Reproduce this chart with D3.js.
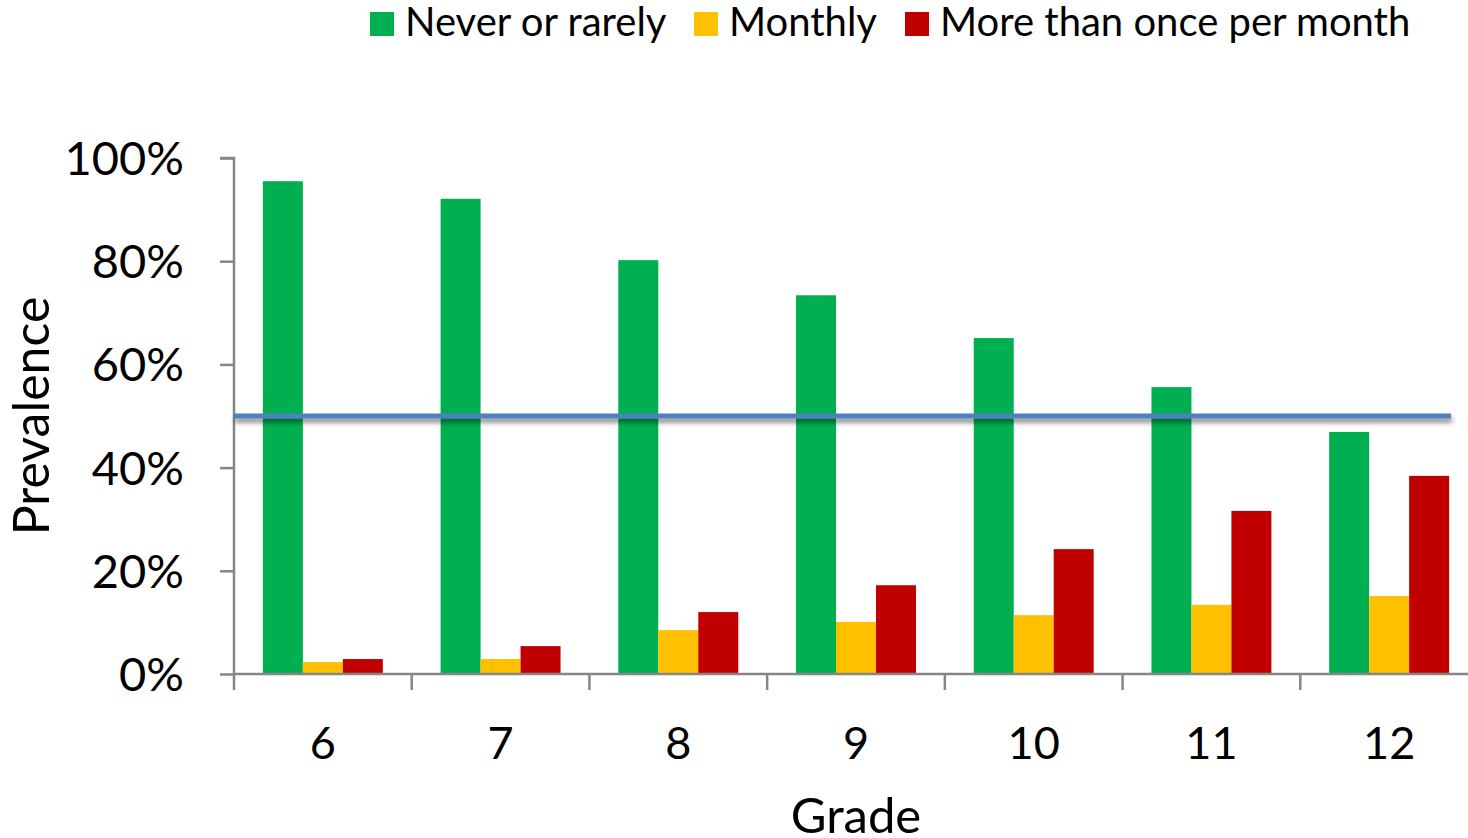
<!DOCTYPE html>
<html>
<head>
<meta charset="utf-8">
<script src="https://cdn.jsdelivr.net/npm/d3@7"></script>
<style>
  html, body { margin: 0; padding: 0; background: #fff; overflow: hidden; }
  svg { display: block; font-family: Lato, "Open Sans", sans-serif; }
</style>
</head>
<body>
<svg id="chart" width="1468" height="838"></svg>
<script>
// Grades and series values (percent of students)
const grades = ["6", "7", "8", "9", "10", "11", "12"];
const seriesNames = ["Never or rarely", "Monthly", "More than once per month"];
const neverRarely = [95.5, 92.1, 80.2, 73.4, 65.1, 55.6, 46.9];
const monthly = [2.3, 2.9, 8.5, 10.1, 11.4, 13.4, 15.1];
const moreThanOnce = [2.9, 5.4, 12.0, 17.2, 24.2, 31.6, 38.4];
const seriesColors = ["#00B050", "#FFC000", "#C00000"];
const yTicks = [0, 20, 40, 60, 80, 100];
const referenceLine = 50;

const svg = d3.select("#chart");
const axisColor = "#868686";

const x0 = d3.scaleBand().domain(grades).range([234, 1478]).padding(0);
const bw = x0.bandwidth();
const groupW = bw * 0.675;
const x1 = d3.scaleBand().domain(seriesNames)
  .range([(bw - groupW) / 2, (bw + groupW) / 2]).padding(0);
const y = d3.scaleLinear().domain([0, 100]).range([674, 158]);

const seriesData = [neverRarely, monthly, moreThanOnce];

// Soft drop shadow for the reference line (user-space region, since a
// horizontal line has a zero-height bounding box)
const defs = svg.append("defs");
const f = defs.append("filter").attr("id", "shadow")
  .attr("filterUnits", "userSpaceOnUse")
  .attr("x", 200).attr("y", y(referenceLine) - 20)
  .attr("width", 1300).attr("height", 45);
f.append("feGaussianBlur").attr("in", "SourceAlpha").attr("stdDeviation", 2.5).attr("result", "b");
f.append("feOffset").attr("in", "b").attr("dx", 1).attr("dy", 4).attr("result", "o");
f.append("feComponentTransfer").attr("in", "o").attr("result", "s")
  .append("feFuncA").attr("type", "linear").attr("slope", 0.5);
const m = f.append("feMerge");
m.append("feMergeNode").attr("in", "s");
m.append("feMergeNode").attr("in", "SourceGraphic");

// Bars
const groups = svg.append("g").selectAll("g")
  .data(grades).join("g")
  .attr("transform", d => `translate(${x0(d)},0)`);

groups.selectAll("rect")
  .data((g, i) => seriesNames.map((s, k) => ({ s, k, v: seriesData[k][i] })))
  .join("rect")
  .attr("x", d => x1(d.s))
  .attr("width", x1.bandwidth())
  .attr("y", d => y(d.v))
  .attr("height", d => y(0) - y(d.v))
  .attr("fill", d => seriesColors[d.k]);

// Y axis
const yAxis = d3.axisLeft(y).tickValues(yTicks).tickSize(14).tickPadding(36)
  .tickFormat(d => d + "%");
const gy = svg.append("g").attr("transform", "translate(234,0)").call(yAxis);
gy.select(".domain").attr("stroke", axisColor).attr("stroke-width", 2.5)
  .attr("d", `M-14,${y(100)}H0V${y(0)}`);
gy.selectAll(".tick line").attr("stroke", axisColor).attr("stroke-width", 2.5);
gy.selectAll(".tick text").attr("fill", "#000").attr("font-size", 47)
  .attr("font-family", "Lato, sans-serif").attr("dy", "0.35em");

// X axis: ticks on category boundaries
const xg = svg.append("g");
xg.append("line").attr("x1", 234).attr("x2", 1468).attr("y1", y(0)).attr("y2", y(0))
  .attr("stroke", axisColor).attr("stroke-width", 2.5);
const boundaries = grades.map(g => x0(g)).concat([x0(grades[grades.length - 1]) + bw]);
xg.selectAll("line.tk").data(boundaries).join("line").attr("class", "tk")
  .attr("x1", d => d).attr("x2", d => d).attr("y1", y(0)).attr("y2", y(0) + 16)
  .attr("stroke", axisColor).attr("stroke-width", 2.5);
xg.selectAll("text").data(grades).join("text")
  .attr("x", d => x0(d) + bw / 2).attr("y", 759)
  .attr("text-anchor", "middle").attr("font-size", 45).attr("fill", "#000")
  .text(d => d);

// Reference line at 50%
svg.append("line").attr("x1", 234).attr("x2", 1451)
  .attr("y1", y(referenceLine)).attr("y2", y(referenceLine))
  .attr("stroke", "#4F81BD").attr("stroke-width", 5)
  .attr("filter", "url(#shadow)");

// Axis titles
svg.append("text").attr("x", 856).attr("y", 833).attr("text-anchor", "middle")
  .attr("font-size", 49).attr("fill", "#000").text("Grade");
svg.append("text").attr("transform", "translate(49,416) rotate(-90)")
  .attr("text-anchor", "middle").attr("font-size", 50).attr("fill", "#000").text("Prevalence");

// Legend
const legendX = [370, 694, 905];
const lg = svg.append("g").selectAll("g").data(seriesNames).join("g")
  .attr("transform", (d, i) => `translate(${legendX[i]},12)`);
lg.append("rect").attr("width", 24).attr("height", 24).attr("fill", (d, i) => seriesColors[i]);
lg.append("text").attr("x", 35).attr("y", 24).attr("font-size", 40).attr("fill", "#000")
  .text(d => d);
</script>
</body>
</html>
